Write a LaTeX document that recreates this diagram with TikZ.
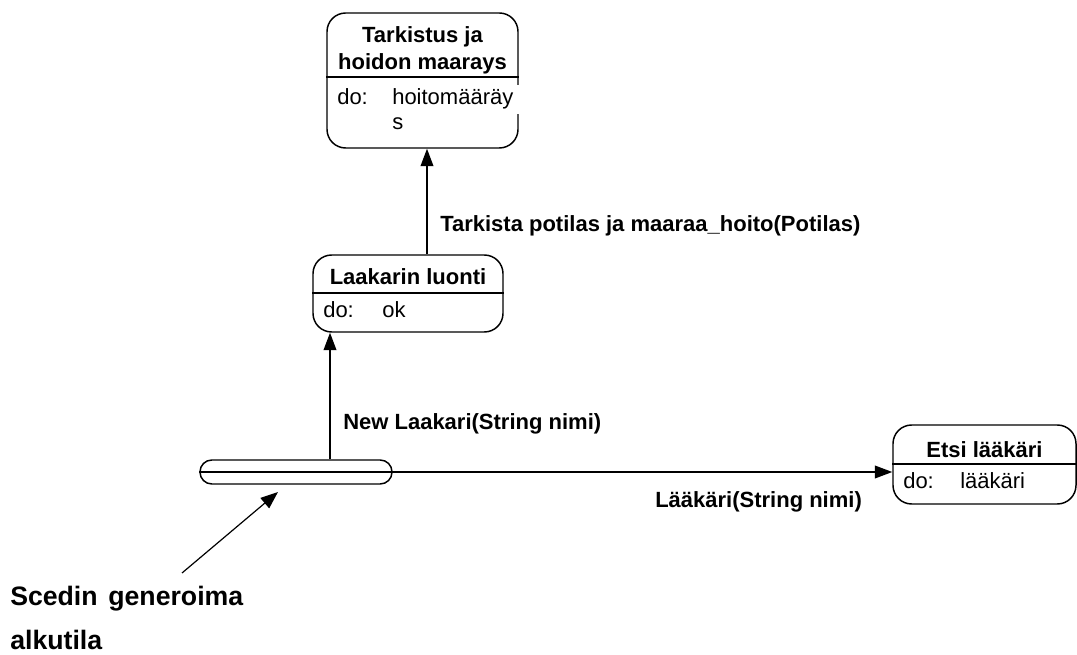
\documentclass[tikz,border=0pt]{standalone}
\usepackage{fontspec}
\setmainfont{Liberation Sans}
\usetikzlibrary{arrows.meta}

\begin{document}
\begin{tikzpicture}[x=0.75pt, y=-0.75pt,
        stbox/.style={draw, line width=1.1pt, rounded corners=14pt, inner sep=0pt},
        sttl/.style={font=\fontsize{16.5}{19}\selectfont\bfseries, inner sep=0pt, anchor=base},
        stdo/.style={font=\fontsize{16.5}{19}\selectfont, inner sep=0pt, anchor=base west},
        trarr/.style={-{Triangle[length=13pt, width=9.5pt]}, line width=1.1pt},
        trlbl/.style={font=\fontsize{16.5}{19}\selectfont\bfseries, inner sep=0pt, anchor=base west},
        notearr/.style={-{Triangle[length=13pt, width=10pt]}, line width=0.9pt}
    ]
    \useasboundingbox (0,0) rectangle (1077,655);

    % === State: Tarkistus ja hoidon maarays ===
    \node[stbox, minimum width=143.25pt, minimum height=101.25pt] (tark) at (422.5,80.5) {};
    \draw[line width=1.1pt] (tark.west |- 0,77) -- (tark.east |- 0,77);
    \node[sttl] (tarkt1) at (422.5,43) {Tarkistus ja};
    \node[sttl] (tarkt2) at (422.5,70) {hoidon maarays};
    \node[stdo] (tarkdo) at (337,105) {do:};
    \node[stdo, fill=white, inner ysep=3pt, text width=96pt, align=left] (tarkact) at (392,105) {hoitomääräy};
    \node[stdo] (tarkact2) at (392,130) {s};

    % === State: Laakarin luonti ===
    \node[stbox, minimum width=142.5pt, minimum height=57.75pt] (laak) at (408,293.5) {};
    \draw[line width=1.1pt] (laak.west |- 0,293) -- (laak.east |- 0,293);
    \node[sttl] (laakt) at (408,285) {Laakarin luonti};
    \node[stdo] (laakdo) at (323,318) {do:};
    \node[stdo] (laakact) at (382,318) {ok};

    % === State: Etsi lääkäri ===
    \node[stbox, minimum width=137.25pt, minimum height=59.25pt] (etsi) at (984.5,464.5) {};
    \draw[line width=1.1pt] (etsi.west |- 0,464) -- (etsi.east |- 0,464);
    \node[sttl] (etsit) at (984.5,457) {Etsi lääkäri};
    \node[stdo] (etsido) at (903,488) {do:};
    \node[stdo] (etsiact) at (960,488) {lääkäri};

    % === Initial state ===
    \node[draw, line width=1.1pt, rounded corners=8.9pt, inner sep=0pt,
          minimum width=144pt, minimum height=18pt] (init) at (296,472) {};
    \draw[line width=1.1pt] (init.west) -- (init.east);

    % === Transitions ===
    \draw[trarr] (init.east) -- (etsi.west |- init.east);
    \draw[trarr] (init.north -| 330,0) -- (laak.south -| 330,0);
    \draw[trarr] (laak.north -| 427,0) -- (tark.south -| 427,0);

    \node[trlbl] (tr1) at (440,232) {Tarkista potilas ja maaraa\_hoito(Potilas)};
    \node[trlbl] (tr2) at (343,430) {New Laakari(String nimi)};
    \node[trlbl] (tr3) at (655,507) {Lääkäri(String nimi)};

    % === Note ===
    \coordinate (notetail) at (182,573);
    \coordinate (notetip) at (278,492);
    \draw[notearr] (notetail) -- (notetip);
    \node[font=\fontsize{20}{33}\selectfont\bfseries, align=left, inner sep=0pt,
          anchor=north west] (note) at (10,586) {Scedin\hspace{0.4em}generoima\\alkutila};

\end{tikzpicture}
\end{document}
